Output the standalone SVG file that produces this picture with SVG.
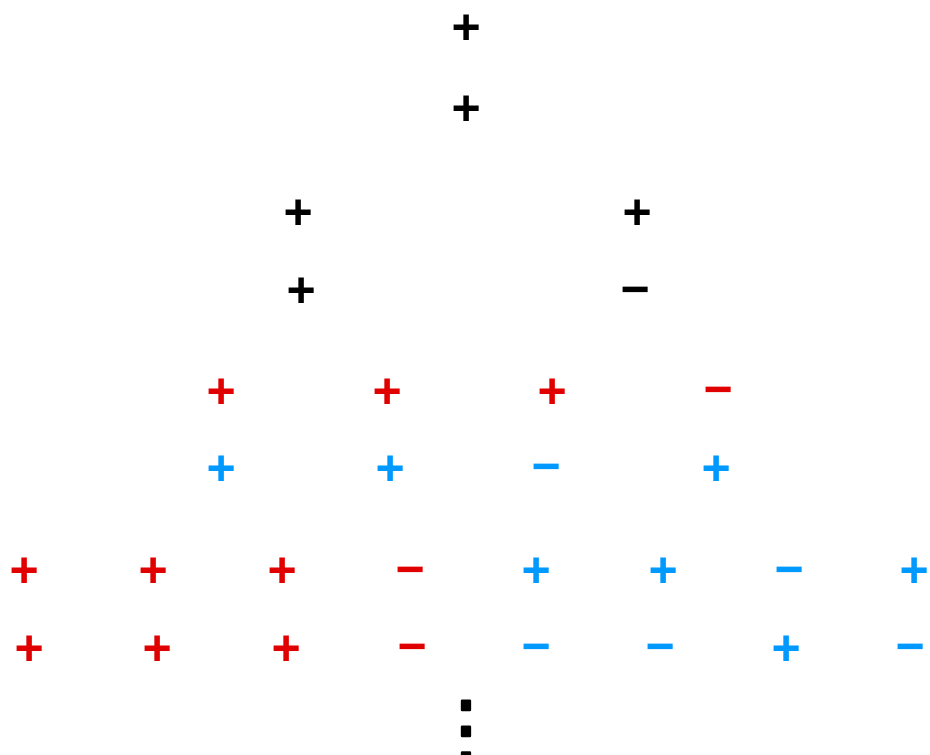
<svg xmlns="http://www.w3.org/2000/svg" width="930" height="755" viewBox="0 0 930 755">
<style>
text{font-family:"Liberation Sans",Arial,sans-serif;font-weight:bold;font-size:50px;text-anchor:middle;dominant-baseline:central}
.k{fill:#000}.r{fill:#e00000}.b{fill:#0099ff}
.d{font-family:"DejaVu Sans",sans-serif;font-weight:normal;font-size:76px;stroke:#000;stroke-width:2.5;stroke-linejoin:round}
</style>
<rect width="930" height="755" fill="#fff"/>
<g id="signs">
<text class="k" x="466" y="27">+</text>
<text class="k" x="466" y="108">+</text>
<text class="k" x="298" y="212">+</text>
<text class="k" x="637" y="212">+</text>
<text class="k" x="301" y="290">+</text>
<text class="k" x="635" y="289">−</text>
<text class="r" x="221" y="391">+</text>
<text class="r" x="387" y="391">+</text>
<text class="r" x="552" y="391">+</text>
<text class="r" x="718" y="389">−</text>
<text class="b" x="221" y="468">+</text>
<text class="b" x="390" y="468">+</text>
<text class="b" x="546" y="466">−</text>
<text class="b" x="716" y="468">+</text>
<text class="r" x="24" y="570">+</text>
<text class="r" x="153" y="570">+</text>
<text class="r" x="282" y="570">+</text>
<text class="r" x="410" y="569">−</text>
<text class="b" x="536" y="570">+</text>
<text class="b" x="663" y="570">+</text>
<text class="b" x="789" y="569">−</text>
<text class="b" x="914" y="570">+</text>
<text class="r" x="29" y="648">+</text>
<text class="r" x="157" y="648">+</text>
<text class="r" x="286" y="648">+</text>
<text class="r" x="412" y="646">−</text>
<text class="b" x="536" y="646">−</text>
<text class="b" x="660" y="646">−</text>
<text class="b" x="786" y="648">+</text>
<text class="b" x="910" y="646">−</text>
<text class="k d" x="466" y="728">⋮</text>
</g>
</svg>
